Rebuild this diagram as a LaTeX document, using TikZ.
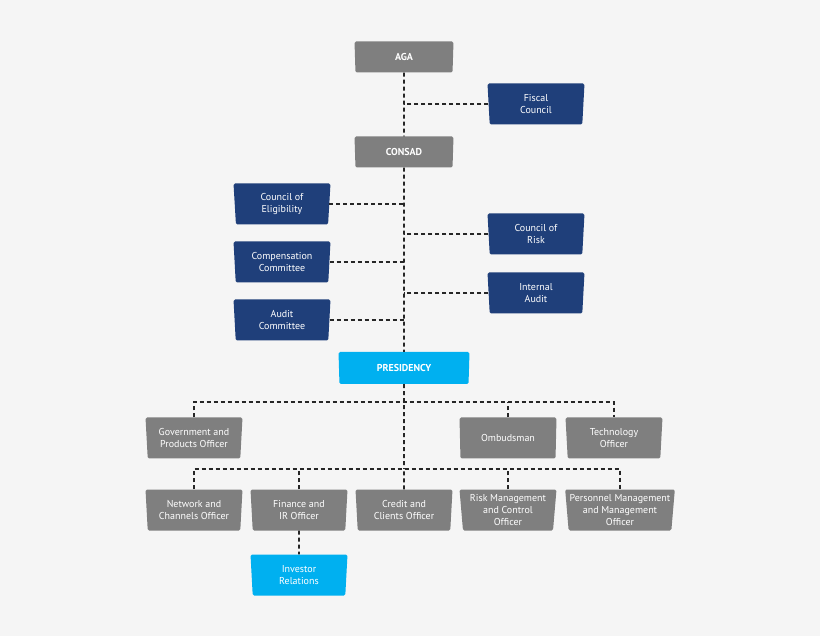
\documentclass[tikz,border=0pt]{standalone}
\usepackage{fontspec}
\setmainfont{PT Sans}
\usetikzlibrary{shapes.geometric}
\definecolor{bg}{HTML}{F5F5F5}
\definecolor{gbox}{HTML}{7F7F7F}
\definecolor{nbox}{HTML}{1F3F7A}
\definecolor{cbox}{HTML}{00B0F0}
\tikzset{
  box/.style={trapezium, trapezium angle=84, shape border rotate=180, trapezium stretches body,
    minimum width=97, minimum height=41, inner sep=1pt, text=white, align=center,
    font=\fontsize{10}{12}\selectfont, rounded corners=1.5pt},
  gb/.style={box, fill=gbox},
  nb/.style={box, fill=nbox},
  cb/.style={box, fill=cbox},
  link/.style={line width=1.8pt, dash pattern=on 4pt off 3pt, draw=black!85}
}
\begin{document}
\begin{tikzpicture}[x=1pt,y=-1pt]
\fill[bg] (0,0) rectangle (820,636);
\useasboundingbox (0,0) rectangle (820,636);
\node[gb, minimum width=99, minimum height=31, font=\bfseries\fontsize{10}{12}\selectfont] (aga) at (404,57) {AGA};
\node[nb] (fiscal) at (536,104) {Fiscal\\Council};
\node[gb, minimum width=99, minimum height=31, font=\bfseries\fontsize{10}{12}\selectfont] (consad) at (404,152) {CONSAD};
\node[nb] (elig) at (282,204) {Council of\\Eligibility};
\node[nb] (risk) at (536,234) {Council of\\Risk};
\node[nb] (comp) at (282,262) {Compensation\\Committee};
\node[nb] (iaudit) at (536,293) {Internal\\Audit};
\node[nb] (audit) at (282,320) {Audit\\Committee};
\node[cb, minimum width=131, minimum height=32, font=\bfseries\fontsize{10}{12}\selectfont] (pres) at (404,368) {PRESIDENCY};
\node[gb] (gov) at (194,438) {Government and\\Products Officer};
\node[gb] (omb) at (508,438) {Ombudsman};
\node[gb] (tech) at (614,438) {Technology\\Officer};
\node[gb] (net) at (194,510) {Network and\\Channels Officer};
\node[gb] (fin) at (299,510) {Finance and\\IR Officer};
\node[gb] (cred) at (404,510) {Credit and\\Clients Officer};
\node[gb] (rm) at (508,510) {Risk Management\\and Control\\Officer};
\node[gb, minimum width=107] (pers) at (620,510) {Personnel Management\\and Management\\Officer};
\node[cb] (inv) at (299,575) {Investor\\Relations};
\coordinate (bus1) at (404,402);
\coordinate (bus2) at (404,469);
\begin{scope}[on background layer/.style={}]
\draw[link] (aga.south) -- (consad.north);
\draw[link] (consad.south) -- (pres.north);
\draw[link] (fiscal.west) -- (fiscal.west -| aga);
\draw[link] (risk.west) -- (risk.west -| aga);
\draw[link] (iaudit.west) -- (iaudit.west -| aga);
\draw[link] (elig.east) -- (elig.east -| aga);
\draw[link] (comp.east) -- (comp.east -| aga);
\draw[link] (audit.east) -- (audit.east -| aga);
\draw[link] (pres.south) -- (bus2);
\draw[link] (gov.north) |- (bus1) -| (tech.north);
\draw[link] (omb.north) -- (omb.north |- bus1);
\draw[link] (net.north) |- (bus2) -| (pers.north);
\draw[link] (fin.north) -- (fin.north |- bus2);
\draw[link] (cred.north) -- (bus2);
\draw[link] (rm.north) -- (rm.north |- bus2);
\draw[link] (fin.south) -- (inv.north);
\end{scope}
\end{tikzpicture}
\end{document}
